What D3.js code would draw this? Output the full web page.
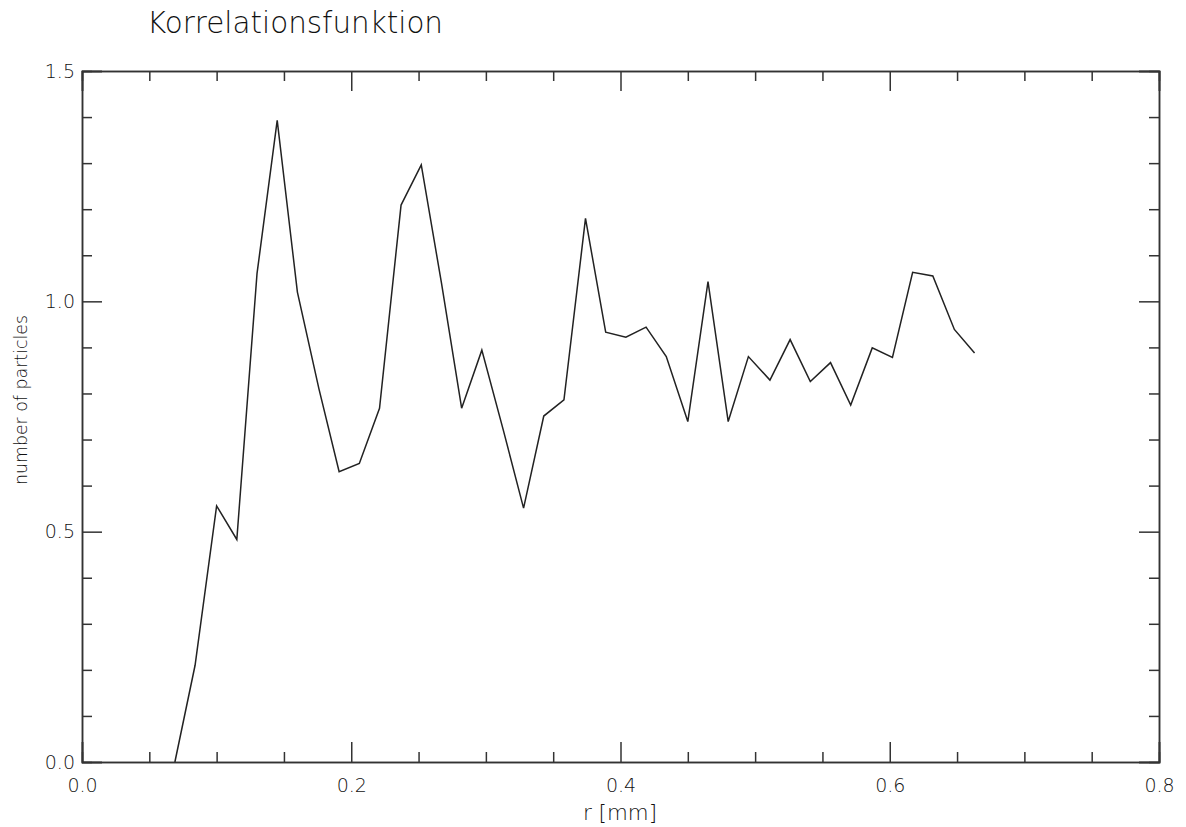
<!DOCTYPE html>
<html>
<head>
<meta charset="utf-8">
<script src="https://cdn.jsdelivr.net/npm/d3@7"></script>
<style>
  body { margin: 0; background: #fff; }
  text { font-family: "DejaVu Sans", sans-serif; font-weight: 200; fill: #111; }
</style>
</head>
<body>
<svg id="chart" width="1186" height="827"></svg>
<script>
// r positions of the bins [mm]
var rValues = [0.069, 0.084, 0.100, 0.115, 0.130, 0.145, 0.160, 0.176, 0.191, 0.206,
  0.221, 0.237, 0.252, 0.267, 0.282, 0.297, 0.313, 0.328, 0.343, 0.358,
  0.374, 0.389, 0.404, 0.419, 0.434, 0.450, 0.465, 0.480, 0.495, 0.511,
  0.526, 0.541, 0.556, 0.571, 0.587, 0.602, 0.617, 0.632, 0.648, 0.663]

// correlation values
var gValues = [0.0, 0.21, 0.556, 0.483, 1.06, 1.393, 1.02, 0.81, 0.63, 0.648,
  0.768, 1.209, 1.296, 1.04, 0.768, 0.894, 0.72, 0.551, 0.751, 0.786,
  1.18, 0.933, 0.922, 0.944, 0.88, 0.739, 1.043, 0.739, 0.88, 0.829,
  0.917, 0.826, 0.867, 0.775, 0.899, 0.878, 1.063, 1.055, 0.939, 0.888]

var xMajor = [0.0, 0.2, 0.4, 0.6, 0.8]
var xMinor = [0.05, 0.1, 0.15, 0.25, 0.3, 0.35, 0.45, 0.5, 0.55, 0.65, 0.7, 0.75]
var yMajor = [0.0, 0.5, 1.0, 1.5]
var yMinor = [0.1, 0.2, 0.3, 0.4, 0.6, 0.7, 0.8, 0.9, 1.1, 1.2, 1.3, 1.4]

var margin = {top: 71, right: 27, bottom: 65, left: 82},
  w = 1186 - margin.left - margin.right,
  h = 827 - margin.top - margin.bottom;

var svg = d3.select('#chart')
var g = svg.append('g')
  .attr('transform', `translate(${margin.left},${margin.top})`)

const x_scale = d3.scaleLinear().domain([0, 0.8]).range([0, w])
const y_scale = d3.scaleLinear().domain([0, 1.5]).range([h, 0])

var axisColor = '#333'
var textColor = '#111'

function styleAxis(sel){
  sel.select('.domain').attr('stroke', axisColor).attr('stroke-width', 1.5)
  sel.selectAll('.tick line').attr('stroke', axisColor).attr('stroke-width', 1.5)
  sel.selectAll('.tick text')
    .attr('font-size', 19)
    .attr('fill', textColor)
}

// bottom axis, ticks pointing inward
g.append('g')
  .attr('transform', `translate(0,${h})`)
  .call(d3.axisBottom(x_scale).tickValues(xMinor).tickSize(-10).tickFormat(''))
  .call(styleAxis)
g.append('g')
  .attr('transform', `translate(0,${h})`)
  .call(d3.axisBottom(x_scale).tickValues(xMajor).tickSize(-20).tickPadding(17)
    .tickFormat(d3.format('.1f')))
  .call(styleAxis)

// top axis
g.append('g')
  .call(d3.axisTop(x_scale).tickValues(xMinor).tickSize(-10).tickFormat(''))
  .call(styleAxis)
g.append('g')
  .call(d3.axisTop(x_scale).tickValues(xMajor).tickSize(-20).tickFormat(''))
  .call(styleAxis)

// left axis
g.append('g')
  .call(d3.axisLeft(y_scale).tickValues(yMinor).tickSize(-10).tickFormat(''))
  .call(styleAxis)
g.append('g')
  .call(d3.axisLeft(y_scale).tickValues(yMajor).tickSize(-20).tickPadding(7)
    .tickFormat(d3.format('.1f')))
  .call(styleAxis)

// right axis
g.append('g')
  .attr('transform', `translate(${w},0)`)
  .call(d3.axisRight(y_scale).tickValues(yMinor).tickSize(-10).tickFormat(''))
  .call(styleAxis)
g.append('g')
  .attr('transform', `translate(${w},0)`)
  .call(d3.axisRight(y_scale).tickValues(yMajor).tickSize(-20).tickFormat(''))
  .call(styleAxis)

// the curve
var line = d3.line()
  .x(function(d, i){ return x_scale(rValues[i]) })
  .y(function(d){ return y_scale(d) })

g.append('path')
  .datum(gValues)
  .attr('d', line)
  .attr('fill', 'none')
  .attr('stroke', '#222')
  .attr('stroke-width', 1.5)

// title
svg.append('text')
  .attr('x', 147)
  .attr('y', 33)
  .attr('font-size', 30)
  .attr('textLength', 296)
  .attr('lengthAdjust', 'spacingAndGlyphs')
  .attr('fill', textColor)
  .text('Korrelationsfunktion')

// x label
svg.append('text')
  .attr('x', 620)
  .attr('y', 820)
  .attr('text-anchor', 'middle')
  .attr('font-size', 21)
  .attr('textLength', 74)
  .attr('lengthAdjust', 'spacingAndGlyphs')
  .attr('fill', textColor)
  .text('r [mm]')

// y label
svg.append('text')
  .attr('transform', `translate(27,400) rotate(-90)`)
  .attr('text-anchor', 'middle')
  .attr('font-size', 18)
  .attr('textLength', 170)
  .attr('lengthAdjust', 'spacingAndGlyphs')
  .attr('fill', textColor)
  .text('number of particles')
</script>
</body>
</html>
